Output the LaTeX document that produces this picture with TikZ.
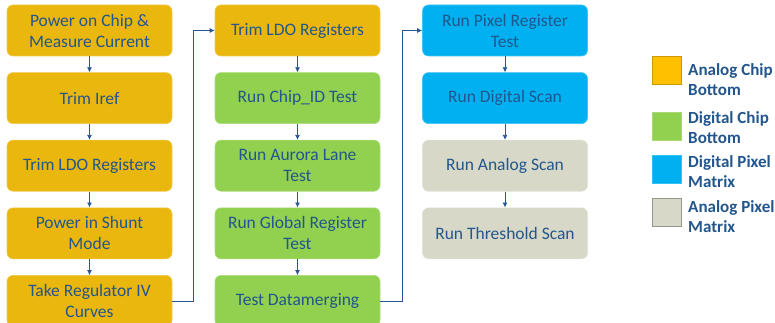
\documentclass[tikz,border=0pt]{standalone}
\usepackage{fontspec}
\setmainfont{Carlito}
\usetikzlibrary{arrows.meta,positioning}
\definecolor{goldbox}{RGB}{234,183,14}
\definecolor{goldkey}{RGB}{255,192,0}
\definecolor{greenbox}{RGB}{146,208,80}
\definecolor{bluebox}{RGB}{0,176,240}
\definecolor{greybox}{RGB}{216,216,200}
\definecolor{txtblue}{RGB}{34,86,140}
\definecolor{arblue}{RGB}{40,85,150}
\tikzset{
  stepbox/.style ={rounded corners=6pt, minimum width=165pt, minimum height=51pt,
                   inner sep=2pt, align=center, text=txtblue,
                   font=\fontsize{17.5}{21}\selectfont, line width=0.6pt},
  anabox/.style  ={stepbox, fill=goldbox, draw=goldbox!75!white},
  digbox/.style  ={stepbox, fill=greenbox, draw=greenbox!75!white},
  pixbox/.style  ={stepbox, fill=bluebox, draw=bluebox!75!white},
  apixbox/.style ={stepbox, fill=greybox, draw=greybox!75!white},
  keybox/.style  ={minimum width=29pt, minimum height=28pt, inner sep=0pt, line width=0.6pt},
  keytxt/.style  ={anchor=north west, align=left, inner sep=0pt, text=txtblue,
                   font=\bfseries\fontsize{17}{20.5}\selectfont},
  ar/.style      ={-{Latex[length=5pt,width=5pt]}, draw=arblue, line width=0.8pt},
}
\begin{document}
\begin{tikzpicture}[x=1pt, y=-1pt, node distance=16pt]
\useasboundingbox (0,0) rectangle (775,323);
% first column: analog chip bottom
\node[anabox] (pwr) at (89.5,30.5) {Power on Chip \&\\Measure Current};
\node[anabox, below=of pwr] (iref) {Trim Iref};
\node[anabox, below=of iref] (ldoa) {Trim LDO Registers};
\node[anabox, below=of ldoa] (shunt) {Power in Shunt\\Mode};
\node[anabox, below=of shunt] (ivc) {Take Regulator IV\\Curves};
% second column: digital chip bottom
\node[anabox] (ldob) at (297.5,30.5) {Trim LDO Registers};
\node[digbox, below=of ldob] (chipid) {Run Chip\_ID Test};
\node[digbox, below=of chipid] (aurora) {Run Aurora Lane\\Test};
\node[digbox, below=of aurora] (glob) {Run Global Register\\Test};
\node[digbox, below=of glob] (dmerge) {Test Datamerging};
% third column: pixel matrix
\node[pixbox] (pixreg) at (505,30.5) {Run Pixel Register\\Test};
\node[pixbox, below=of pixreg] (dscan) {Run Digital Scan};
\node[apixbox, below=of dscan] (ascan) {Run Analog Scan};
\node[apixbox, below=of ascan] (thscan) {Run Threshold Scan};
% arrows
\foreach \a/\b in {pwr/iref, iref/ldoa, ldoa/shunt, shunt/ivc,
                   ldob/chipid, chipid/aurora, aurora/glob, glob/dmerge,
                   pixreg/dscan, dscan/ascan, ascan/thscan}
  \draw[ar] (\a) -- (\b);
\draw[ar] (ivc.east) -- ++(21,0) |- (ldob.west);
\draw[ar] (dmerge.east) -- ++(22,0) |- (pixreg.west);
% legend
\node[keybox, fill=goldkey, draw=goldkey!80!black] (kana) at (666.5,70) {};
\node[keybox, fill=greenbox, draw=greenbox!80!white] (kdig) at (666.5,126) {};
\node[keybox, fill=bluebox, draw=bluebox!80!white] (kpix) at (666.5,169.5) {};
\node[keybox, fill=greybox, draw=greybox!70!black] (kapix) at (666.5,212.5) {};
\node[keytxt] (tana) at (688,63) {Analog Chip\\Bottom};
\node[keytxt] (tdig) at (688,111) {Digital Chip\\Bottom};
\node[keytxt] (tpix) at (688,155) {Digital Pixel\\Matrix};
\node[keytxt] (tapix) at (688,200) {Analog Pixel\\Matrix};
\end{tikzpicture}
\end{document}
